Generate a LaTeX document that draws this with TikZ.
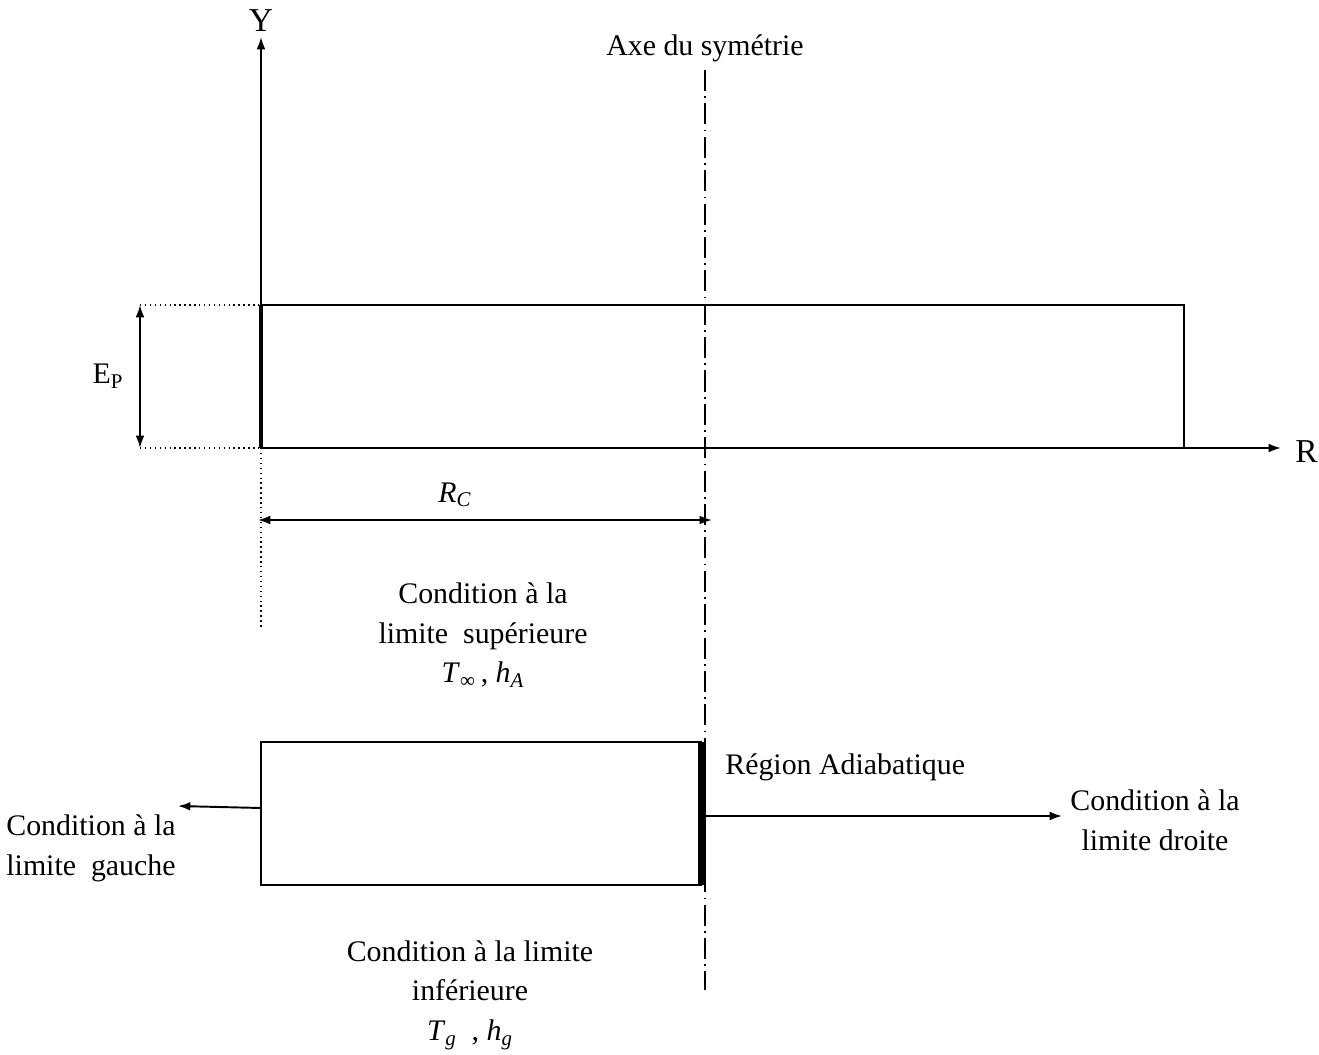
\documentclass[tikz,border=0pt]{standalone}
\usepackage{fontspec}
\setmainfont{Liberation Serif}
\usetikzlibrary{arrows.meta}
\tikzset{
  trait/.style={line width=1.1pt},
  axe/.style={line width=1.1pt,-{Latex[length=7pt,width=5pt]}},
  cote/.style={line width=1.1pt,{Latex[length=7pt,width=5pt]}-{Latex[length=7pt,width=5pt]}},
  rappel/.style={line width=0.8pt,dotted},
  symetrie/.style={line width=0.8pt,dash pattern=on 12pt off 3pt on 1pt off 3pt},
  texte/.style={font=\fontsize{17}{22.7}\selectfont,align=center,inner sep=0pt},
}
\begin{document}
\begin{tikzpicture}[x=0.02cm,y=-0.02cm]
    \useasboundingbox (0,0) rectangle (1319,1055);

    % reperes
    \coordinate (O) at (261,448);
    \coordinate (Ytip) at (261,37);
    \coordinate (Rtip) at (1281,448);
    \coordinate (Ohaut) at (261,305);
    \coordinate (Obas) at (261,628);

    % plaque
    \draw[trait] (O) rectangle (1184,305);
    \draw[line width=1.8pt] (O)--(Ohaut);
    \draw[axe] (O)--(Ytip);
    \draw[axe] (O)--(Rtip);
    \draw (Ytip) node[above,texte,yshift=3pt,font=\fontsize{19}{22}\selectfont]{Y};
    \draw (Rtip) node[right,texte,xshift=8pt,yshift=-2pt,font=\fontsize{19}{22}\selectfont]{R};

    % epaisseur
    \coordinate (Ea) at (140,305);
    \coordinate (Eb) at (140,448);
    \draw[rappel] (Ea)--(Ohaut);
    \draw[rappel] (Eb)--(O);
    \draw[rappel] (O)--(Obas);
    \draw[cote] (Ea)--(Eb);
    \node[texte] (Ep) at (108,376) {E\textsubscript{P}};

    % axe de symetrie
    \coordinate (Sh) at (705,70);
    \coordinate (Sb) at (705,990);
    \draw[symetrie] (Sh)--(Sb);
    \node[texte] (axe) at (705,48) {Axe du symétrie};

    % rayon
    \coordinate (Ra) at (258,520);
    \coordinate (Rb) at (712,520);
    \draw[cote] (Ra)--(Rb);
    \node[texte] (Rc) at (455,495) {\textit{R}\textsubscript{\textit{C}}};

    \node[texte] (haut) at (483,635) {Condition à la\\limite~~supérieure\\\textit{T}\textsubscript{∞}\,, \textit{h}\textsubscript{\textit{A}}};

    % domaine de calcul
    \draw[trait] (261,742) rectangle (701,885);
    \draw[line width=4.5pt] (702,742)--(702,885);
    \node[texte,anchor=west] (adia) at (725,767) {Région Adiabatique};

    \coordinate (Dg) at (261,808);
    \coordinate (Gtip) at (178,806);
    \coordinate (Dd) at (705,816);
    \coordinate (Dtip) at (1062,816);
    \draw[axe] (Dg)--(Gtip);
    \draw[axe] (Dd)--(Dtip);
    \node[texte] (gauche) at (91,848) {Condition à la\\limite~~gauche};
    \node[texte] (droite) at (1155,820) {Condition à la\\limite droite};
    \node[texte] (bas) at (470,995) {Condition à la limite\\inférieure\\\textit{T}\textsubscript{\textit{g}}~~, \textit{h}\textsubscript{\textit{g}}};
\end{tikzpicture}
\end{document}
